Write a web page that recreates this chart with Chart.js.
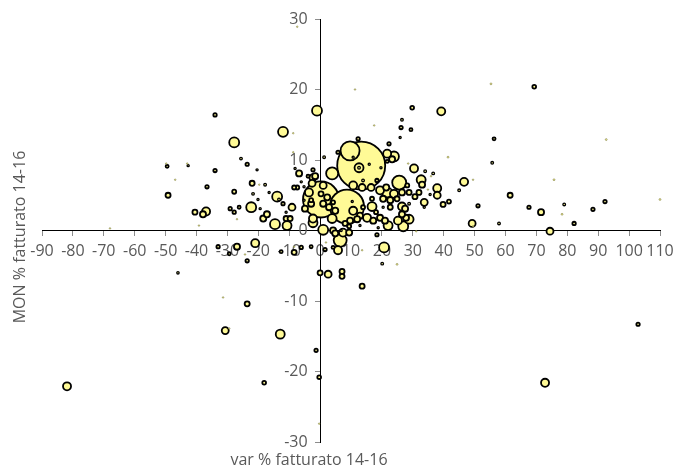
<!DOCTYPE html>
<html>
<head>
<meta charset="utf-8">
<script src="https://cdn.jsdelivr.net/npm/chart.js@4.4.0/dist/chart.umd.min.js"></script>
<style>
  html, body { margin: 0; padding: 0; background: #fff; }
  canvas { display: block; }
</style>
</head>
<body>
<canvas id="grafico" width="676" height="467"></canvas>
<script>
// var % fatturato 14-16 (asse x)
var varFatturato = [
  -7.4, -1.0, -34.0, -12.0, -8.7, -27.8, -25.6, -23.6, -20.4, -34.0,
  -49.5, -49.8, -43.0, -42.7, -46.9, -49.2, -36.6, -27.8, -22.0, -19.7,
  -17.8, -21.7, -20.1, -16.5, -13.9, -13.3, -12.0, -9.1, -22.3, -19.4,
  -29.1, -27.8, -26.2, -40.5, -36.9, -37.9, -39.2, -26.9, -18.4, -17.2,
  -14.6, -11.0, -9.7, -10.7, -11.0, -68.0, -6.8, -8.1, -7.4, -8.4,
  -6.1, -3.9, -2.3, -2.3, -2.6, -4.9, -5.2, -2.9, -2.3, 1.0,
  -8.7, 1.3, 13.3, 9.7, 12.6, 12.6, 10.7, 15.9, 12.3, 19.7,
  5.8, 22.3, 25.9, 17.5, 26.2, 21.7, 23.9, 23.3, 21.7, 28.5,
  3.9, -1.6, -3.6, -5.2, 1.0, 0.3, 8.7, 1.0, 2.3, 0.3,
  2.9, 4.2, 4.9, -2.9, -2.3, 3.9, 4.2, 10.7, 10.4, 10.7,
  13.6, 16.5, 18.4, 13.9, 16.8, 19.4, 21.4, 21.7, 23.9, 25.6,
  28.2, 26.5, 20.4, 22.7, 24.9, 26.5, 27.5, 22.7, 20.4, 16.8,
  18.1, 13.9, 15.2, 12.9, 12.0, 9.7, 8.1, 9.4, 17.2, 19.4,
  21.0, 22.0, 18.8, 25.2, 26.9, 27.8, 6.8, 12.9, 11.3, 29.8,
  39.2, 55.3, 69.3, 26.5, 29.4, 56.3, 92.6, 41.4, 55.7, 30.4,
  34.0, 36.6, 35.9, 32.7, 33.0, 37.9, 37.9, 35.6, 34.9, 28.8,
  30.7, 32.0, 33.7, 33.7, 39.8, 41.7, 45.0, 46.6, 49.5, 51.1,
  49.2, 49.5, 57.9, 61.5, 67.6, 71.5, 74.4, 75.7, 79.0, 78.3,
  82.2, 88.3, 92.2, 110.0, 18.4, 26.5, 28.8, 28.8, 31.1, -21.0,
  -23.6, -24.3, -12.6, -8.4, -6.1, -2.9, 1.6, 0.0, 2.6, 7.1,
  7.1, 13.6, 5.8, 6.5, 7.4, 4.9, 9.4, 4.2, 1.9, 20.7,
  20.1, 24.9, 13.6, -33.0, -29.4, -26.9, -8.4, -46.0, -31.4, -23.6,
  -30.7, -29.4, -12.9, -1.3, -0.3, -18.1, -81.9, -0.3, 102.9, 72.8
];

// MON % fatturato 14-16 (asse y)
var monFatturato = [
  28.9, 17.0, 16.4, 14.0, 13.8, 12.5, 10.2, 9.4, 8.6, 8.5,
  9.1, 9.5, 9.5, 9.2, 7.2, 5.0, 6.2, 5.5, 6.7, 6.5,
  6.5, 5.2, 4.4, 5.4, 4.8, 4.4, 3.8, 3.3, 3.3, 3.1,
  3.1, 2.6, 3.3, 2.6, 2.7, 2.3, 0.7, 1.6, 1.7, 2.3,
  0.9, 1.7, 1.7, 0.7, 2.6, 0.3, 8.1, 8.8, 6.1, 6.1,
  6.9, 7.7, 8.6, 7.5, 6.7, 3.1, 4.3, 3.8, 1.1, 0.1,
  11.1, 10.4, 9.2, 11.3, 8.9, 8.9, 10.4, 9.4, 13.0, 8.9,
  11.1, 12.3, 13.2, 14.9, 14.6, 10.9, 10.5, 10.1, 9.8, 9.5,
  8.1, 7.7, 5.4, 6.2, 6.4, 4.4, 3.4, 3.8, 4.7, 5.2,
  3.3, 4.0, 2.8, 4.3, 1.7, 1.7, 0.0, 2.8, 4.1, 6.4,
  6.1, 6.1, 7.1, 7.1, 4.5, 5.7, 6.1, 5.4, 5.2, 6.8,
  6.4, 5.4, 4.5, 4.3, 4.5, 3.4, 3.1, 3.3, 3.3, 3.4,
  2.6, 3.3, 1.8, 2.1, 1.6, 1.4, 1.0, 0.6, 1.4, 1.8,
  1.4, 0.7, 0.4, 1.4, 0.6, 1.8, 0.0, 0.7, 20.0, 17.4,
  16.9, 20.8, 20.4, 15.7, 14.3, 13.0, 12.9, 10.4, 9.6, 8.8,
  8.4, 8.1, 7.7, 7.2, 6.5, 6.0, 5.0, 5.1, 5.8, 5.4,
  4.8, 5.4, 4.0, 3.3, 3.7, 4.1, 5.7, 6.9, 7.2, 3.5,
  1.0, 0.6, 1.0, 5.0, 3.3, 2.6, -0.1, 7.2, 3.7, 2.3,
  1.0, 3.0, 4.1, 4.4, -0.6, 2.3, 1.6, 3.8, -0.1, -1.8,
  -4.3, -3.4, -3.0, -2.3, -2.4, -2.3, -2.7, -6.0, -6.2, -5.8,
  -6.5, -7.9, -2.8, -1.4, -0.3, -0.4, -0.3, -2.4, -1.7, -2.4,
  -4.7, -4.8, -2.8, -2.3, -3.3, -2.3, -3.1, -6.0, -9.5, -10.4,
  -14.2, -13.9, -14.7, -17.0, -20.8, -21.6, -22.1, -27.4, -13.3, -21.6
];

// fatturato (dimensione delle bolle)
var fatturato = [
  1, 43, 5, 43, 1, 43, 3, 5, 2, 5,
  4, 1, 1, 2, 1, 11, 5, 7, 11, 1,
  3, 3, 2, 2, 43, 3, 5, 21, 43, 2,
  5, 5, 4, 11, 28, 16, 1, 1, 16, 16,
  43, 11, 11, 35, 2, 1, 16, 2, 7, 7,
  2, 4, 5, 21, 21, 16, 2, 16, 35, 43,
  1, 3, 1000, 157, 35, 3, 2, 2, 5, 2,
  5, 5, 2, 1, 5, 28, 43, 16, 4, 1,
  63, 16, 28, 2, 21, 563, 502, 16, 16, 11,
  16, 7, 16, 7, 28, 35, 16, 28, 2, 28,
  21, 21, 5, 3, 7, 28, 16, 43, 28, 85,
  7, 16, 16, 16, 11, 28, 16, 11, 2, 35,
  7, 7, 28, 16, 16, 16, 11, 7, 16, 16,
  16, 35, 2, 28, 43, 16, 2, 2, 1, 6,
  28, 1.5, 6, 3, 4, 4, 1.5, 1.5, 3, 28,
  3, 3, 1, 35, 16, 28, 21, 2, 1, 11,
  11, 11, 21, 2, 11, 7, 3, 28, 1, 5,
  21, 1, 3, 11, 5, 16, 21, 1.5, 3, 1.5,
  5, 5, 5, 1.5, 5, 16, 35, 3, 1, 28,
  5, 1, 4, 1, 5, 4, 5, 11, 21, 11,
  11, 11, 28, 73, 28, 16, 16, 4, 1, 43,
  3, 1.5, 1, 5, 4, 16, 11, 2.5, 1, 11,
  21, 1, 35, 5, 6, 6, 28, 1, 5, 28
];

var titoloX = "var % fatturato 14-16";
var titoloY = "MON % fatturato 14-16";

var raggioMax = 24;
var fatturatoMax = Math.max.apply(null, fatturato);

// le bolle grandi vanno disegnate per prime
var punti = [];
for (var i = 0; i < varFatturato.length; i++) {
  punti.push({
    x: varFatturato[i],
    y: monFatturato[i],
    r: raggioMax * Math.sqrt(fatturato[i] / fatturatoMax)
  });
}
punti.sort(function(a, b) { return b.r - a.r; });

var grigio = '#595959';
var font = { family: '"Open Sans", sans-serif', size: 16 };

// gli assi passano per lo zero: non devono togliere spazio al grafico
function senzaSpazio(s) {
  if (s.isHorizontal()) s.height = 0; else s.width = 0;
  s.paddingTop = 0;
  s.paddingBottom = 0;
  s.paddingLeft = 0;
  s.paddingRight = 0;
}

// titoli degli assi, fissi ai bordi come in Excel
var titoli = {
  id: 'titoli',
  afterDraw: function(chart) {
    var ctx = chart.ctx;
    ctx.save();
    ctx.fillStyle = grigio;
    ctx.font = '16px "Open Sans", sans-serif';
    ctx.textAlign = 'center';
    ctx.textBaseline = 'alphabetic';
    ctx.fillText(titoloX, 309, 465);
    ctx.translate(25, 237);
    ctx.rotate(-Math.PI / 2);
    ctx.fillText(titoloY, 0, 0);
    ctx.restore();
  }
};

new Chart(document.getElementById('grafico'), {
  type: 'bubble',
  data: {
    datasets: [{
      data: punti,
      backgroundColor: '#FFFA96',
      borderColor: function(c) {
        var r = c.raw ? c.raw.r : 2;
        return r < 1 ? 'rgba(110,110,50,0.8)' : '#000';
      },
      borderWidth: function(c) {
        var r = c.raw ? c.raw.r : 2;
        if (r < 1) return 0.7;
        if (r < 1.4) return 1.3;
        return 1.8;
      },
      clip: false
    }]
  },
  plugins: [titoli],
  options: {
    responsive: false,
    animation: false,
    events: [],
    layout: { autoPadding: false, padding: { left: 42, right: 16, top: 19, bottom: 25 } },
    plugins: {
      legend: { display: false },
      tooltip: { enabled: false }
    },
    scales: {
      x: {
        type: 'linear',
        min: -90,
        max: 110,
        position: { y: 0 },
        afterFit: senzaSpazio,
        border: { display: true, color: '#000', width: 1 },
        grid: { drawOnChartArea: false, drawTicks: true, tickLength: 5, tickColor: '#8c8c8c' },
        ticks: { stepSize: 10, autoSkip: false, maxRotation: 0, minRotation: 0, padding: 6, color: grigio, font: font }
      },
      y: {
        type: 'linear',
        min: -30,
        max: 30,
        position: { x: 0 },
        afterFit: senzaSpazio,
        border: { display: true, color: '#000', width: 1 },
        grid: { drawOnChartArea: false, drawTicks: true, tickLength: 5, tickColor: '#8c8c8c' },
        ticks: {
          stepSize: 10,
          color: grigio,
          font: font,
          callback: function(v) { return v + '   '; }
        }
      }
    }
  }
});
</script>
</body>
</html>
